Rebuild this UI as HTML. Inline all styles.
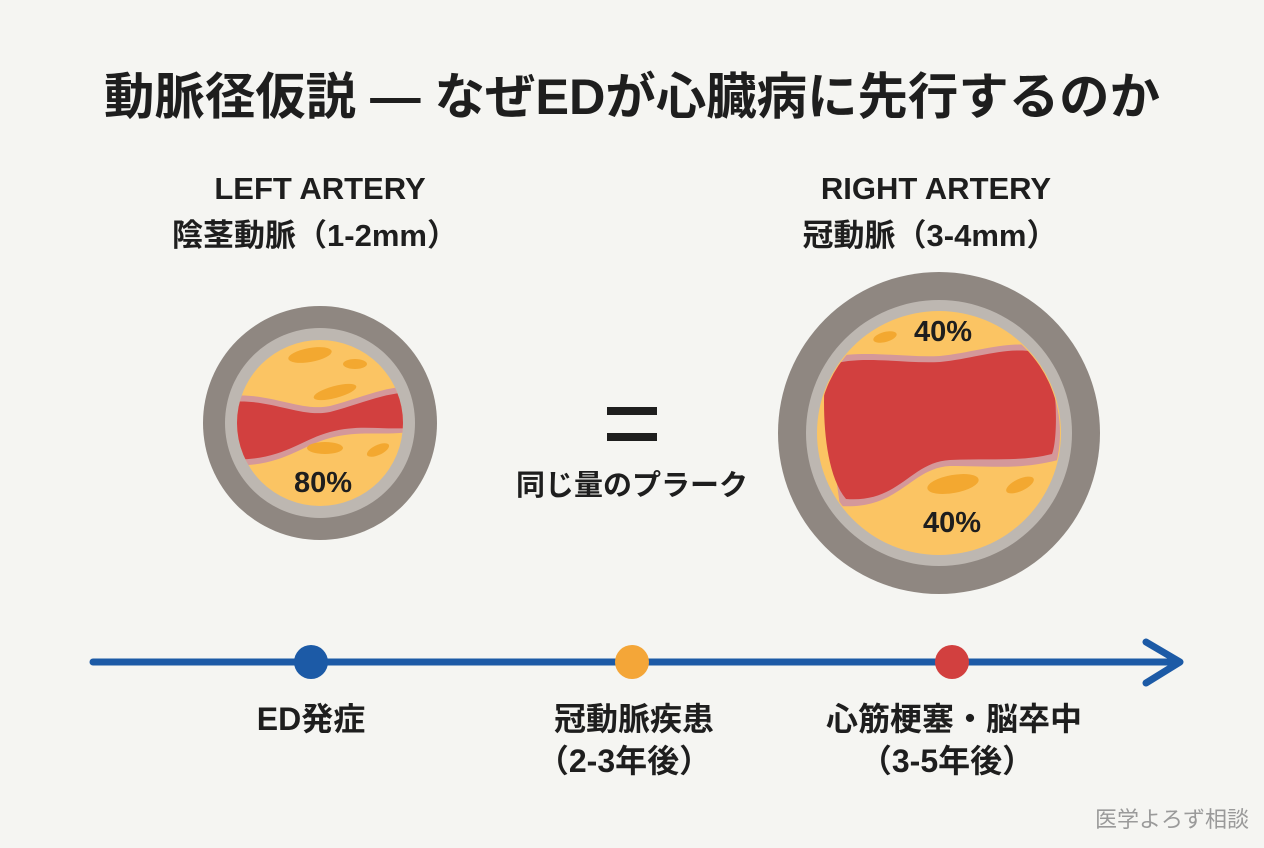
<!DOCTYPE html>
<html><head><meta charset="utf-8"><style>
body{margin:0;background:#f5f5f2;}
svg{display:block}
text{font-family:"Liberation Sans","Noto Sans CJK JP",sans-serif;font-weight:bold;fill:#1e1e1e}
</style></head><body>
<svg width="1264" height="848" viewBox="0 0 1264 848">
<rect width="1264" height="848" fill="#f5f5f2"/>
<text x="632" y="114" font-size="50" text-anchor="middle" textLength="1056" lengthAdjust="spacingAndGlyphs">動脈径仮説 — なぜEDが心臓病に先行するのか</text>
<text x="320" y="199" font-size="31" text-anchor="middle">LEFT ARTERY</text>
<text x="315" y="246" font-size="31" text-anchor="middle">陰茎動脈（1-2mm）</text>
<text x="936" y="199" font-size="31" text-anchor="middle">RIGHT ARTERY</text>
<text x="930" y="246" font-size="31" text-anchor="middle">冠動脈（3-4mm）</text>
<defs>
<clipPath id="cl"><circle cx="320" cy="423" r="83"/></clipPath>
<clipPath id="cr"><circle cx="939" cy="433" r="121"/></clipPath>
</defs>
<circle cx="320" cy="423" r="117" fill="#8f8781"/>
<circle cx="320" cy="423" r="95" fill="#bdb7b1"/>
<circle cx="320" cy="423" r="83" fill="#fbc463"/>
<g clip-path="url(#cl)">
<path d="M230,396 C270,392 300,412 330,406 C360,398 380,388 410,386 L410,432 C380,436 360,430 330,438 C300,446 280,468 230,465 Z" fill="#d4989a"/>
<path d="M230,402 C270,398 300,418 330,412 C360,404 380,394 410,392 L410,428 C380,430 360,424 330,432 C300,440 280,462 230,459 Z" fill="#d2403f"/>
</g>
<ellipse cx="310" cy="355" rx="22" ry="7" fill="#f3a830" transform="rotate(-10 310 355)"/>
<ellipse cx="355" cy="364" rx="12" ry="5" fill="#f3a830"/>
<ellipse cx="335" cy="392" rx="22" ry="6" fill="#f3a830" transform="rotate(-15 335 392)"/>
<ellipse cx="325" cy="448" rx="18" ry="6" fill="#f3a830"/>
<ellipse cx="378" cy="450" rx="12" ry="5" fill="#f3a830" transform="rotate(-25 378 450)"/>
<text x="323" y="492" font-size="29" text-anchor="middle">80%</text>
<rect x="607" y="407" width="50" height="8" fill="#1e1e1e"/>
<rect x="607" y="433" width="50" height="8" fill="#1e1e1e"/>
<text x="632" y="495" font-size="29" text-anchor="middle">同じ量のプラーク</text>
<circle cx="939" cy="433" r="161" fill="#8f8781"/>
<circle cx="939" cy="433" r="133" fill="#bdb7b1"/>
<circle cx="939" cy="433" r="122" fill="#fbc463"/>
<g clip-path="url(#cr)">
<path d="M820,360 C860,348 900,358 940,356 C980,352 1010,338 1050,348 C1062,380 1062,440 1058,460 C1020,470 990,466 950,466 C910,468 900,510 840,506 Z" fill="#d4989a"/>
<path d="M826,366 C860,354 900,364 940,362 C980,358 1010,344 1046,354 C1058,380 1058,440 1052,454 C1020,462 990,458 950,460 C910,462 900,503 846,499 C822,470 822,400 826,366 Z" fill="#d2403f"/>
</g>
<ellipse cx="885" cy="337" rx="12" ry="5" fill="#f3a830" transform="rotate(-15 885 337)"/>
<ellipse cx="953" cy="484" rx="26" ry="9" fill="#f3a830" transform="rotate(-10 953 484)"/>
<ellipse cx="1020" cy="485" rx="15" ry="6" fill="#f3a830" transform="rotate(-25 1020 485)"/>
<text x="943" y="341" font-size="29" text-anchor="middle">40%</text>
<text x="952" y="532" font-size="29" text-anchor="middle">40%</text>
<line x1="93" y1="662" x2="1178" y2="662" stroke="#1c5aa6" stroke-width="7" stroke-linecap="round"/>
<polyline points="1146,642 1180,662 1146,683" fill="none" stroke="#1c5aa6" stroke-width="7" stroke-linecap="round" stroke-linejoin="round"/>
<circle cx="311" cy="662" r="17" fill="#1c5aa6"/>
<circle cx="632" cy="662" r="17" fill="#f4a638"/>
<circle cx="952" cy="662" r="17" fill="#d2403f"/>
<text x="311" y="730" font-size="32" text-anchor="middle">ED発症</text>
<text x="634" y="730" font-size="32" text-anchor="middle">冠動脈疾患</text>
<text x="624" y="772" font-size="32" text-anchor="middle">（2-3年後）</text>
<text x="954" y="730" font-size="32" text-anchor="middle">心筋梗塞・脳卒中</text>
<text x="947" y="772" font-size="32" text-anchor="middle">（3-5年後）</text>
<text x="1249" y="827" font-size="22" text-anchor="end" style="font-weight:normal;fill:#9a9a9a">医学よろず相談</text>
</svg>
</body></html>
